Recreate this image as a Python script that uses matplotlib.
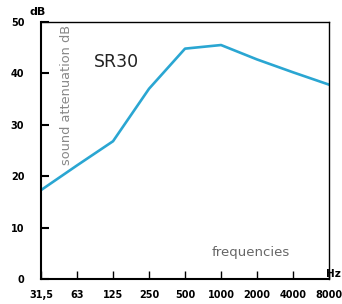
import numpy as np
import matplotlib.pyplot as plt

# octave band frequencies and attenuation values
freq_labels = ['31,5', '63', '125', '250', '500', '1000', '2000', '4000', '8000']
attenuation = [17.3, 22.1, 26.8, 37.0, 44.8, 45.5, 42.7, 40.2, 37.8]
y_ticks = [0, 10, 20, 30, 40, 50]

line_color = '#2aa6d2'
x = np.arange(len(freq_labels))

fig = plt.figure(figsize=(3.42, 3.04), dpi=100)
ax = fig.add_axes([0.120, 0.082, 0.842, 0.846])

ax.plot(x, attenuation, color=line_color, linewidth=1.9)

ax.set_xlim(0, len(freq_labels) - 1)
ax.set_ylim(0, 50)
ax.set_xticks(x)
ax.set_xticklabels(freq_labels)
ax.set_yticks(y_ticks)

ax.tick_params(axis='x', direction='in', length=6, width=1.0, pad=8,
               labelsize=7)
ax.tick_params(axis='y', direction='in', length=6, width=1.5, pad=12,
               labelsize=7)
for lab in ax.get_xticklabels() + ax.get_yticklabels():
    lab.set_fontweight('bold')

for side in ['left', 'bottom']:
    ax.spines[side].set_linewidth(1.5)
for side in ['top', 'right']:
    ax.spines[side].set_linewidth(1.0)

# labels drawn inside the frame
ax.text(0.09, 0.445, 'sound attenuation dB', transform=ax.transAxes,
        rotation=90, ha='center', va='bottom', color='#888888', fontsize=9.3)
ax.text(0.185, 0.845, 'SR30', transform=ax.transAxes, ha='left',
        va='center', fontsize=12.5, color='#222222')
ax.text(0.865, 0.102, 'frequencies', transform=ax.transAxes, ha='right',
        va='center', fontsize=9.5, color='#666666')

fig.text(38 / 342, 1 - 12 / 304, 'dB', ha='center', va='center',
         fontsize=8, fontweight='bold')
fig.text(341 / 342, 1 - 274 / 304, 'Hz', ha='right', va='center',
         fontsize=7.5, fontweight='bold')

fig.savefig('out.png', dpi=100)
